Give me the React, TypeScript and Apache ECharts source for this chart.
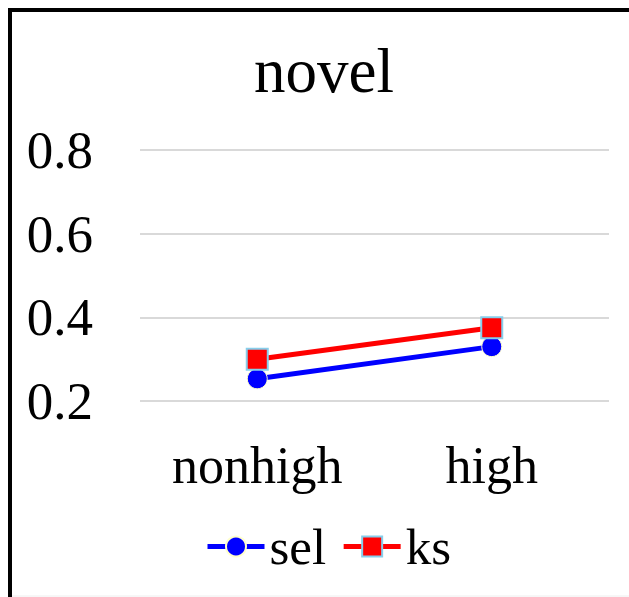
import React, { useEffect, useRef } from "react";
import * as echarts from "echarts";

const categories = ["nonhigh", "high"];
const selValues = [0.253, 0.33];
const ksValues = [0.3, 0.375];
const titleText = "novel";
const FONT = '"Liberation Serif", "Times New Roman", serif';

export default function App() {
  const ref = useRef<HTMLDivElement>(null);
  useEffect(() => {
    if (!ref.current) return;
    const chart = echarts.init(ref.current, undefined, { renderer: "svg" });
    chart.setOption({
      animation: false,
      backgroundColor: "#ffffff",
      title: {
        text: titleText,
        left: 319,
        top: 34,
        textAlign: "center",
        textStyle: { fontFamily: FONT, fontSize: 63, fontWeight: "normal", color: "#000" },
      },
      grid: { left: 140, right: 20, top: 150, bottom: 196, containLabel: false },
      xAxis: {
        type: "category",
        data: categories,
        boundaryGap: true,
        axisLine: { show: false },
        axisTick: { show: false },
        axisLabel: { fontFamily: FONT, fontSize: 52, color: "#000", margin: 38 },
      },
      yAxis: {
        type: "value",
        min: 0.2,
        max: 0.8,
        interval: 0.2,
        axisLine: { show: false },
        axisTick: { show: false },
        splitLine: { lineStyle: { color: "#d9d9d9", width: 2 } },
        axisLabel: {
          fontFamily: FONT,
          fontSize: 53,
          color: "#000",
          margin: 47,
          formatter: (v: number) => v.toFixed(1),
        },
      },
      legend: {
        left: 200,
        top: 516,
        itemWidth: 57,
        itemHeight: 25,
        itemGap: 15,
        lineStyle: { width: 5 },
        textStyle: { fontFamily: FONT, fontSize: 51, color: "#000", lineHeight: 50, padding: [0, 0, 0, 0] },
        data: ["sel", "ks"],
      },
      series: [
        {
          name: "sel",
          type: "line",
          data: selValues,
          symbol: "circle",
          symbolSize: 20,
          lineStyle: { color: "#0000ff", width: 5 },
          itemStyle: { color: "#0000ff", borderColor: "#ffffcc", borderWidth: 1 },
        },
        {
          name: "ks",
          type: "line",
          data: ksValues,
          symbol: "rect",
          symbolSize: 21,
          lineStyle: { color: "#ff0000", width: 5 },
          itemStyle: { color: "#ff0000", borderColor: "#87ceeb", borderWidth: 2 },
        },
      ],
      graphic: [
        {
          type: "line",
          shape: { x1: 10, y1: 8, x2: 10, y2: 597 },
          style: { stroke: "#000", lineWidth: 4 },
          silent: true,
        },
        {
          type: "line",
          shape: { x1: 8, y1: 10, x2: 629, y2: 10 },
          style: { stroke: "#000", lineWidth: 4 },
          silent: true,
        },
        {
          type: "line",
          shape: { x1: 12, y1: 596, x2: 629, y2: 596 },
          style: { stroke: "#eeeeee", lineWidth: 1 },
          silent: true,
        },
      ],
    });
    return () => chart.dispose();
  }, []);
  return (
    <div
      ref={ref}
      style={{ position: "absolute", left: 0, top: 0, width: 629, height: 597 }}
    />
  );
}
